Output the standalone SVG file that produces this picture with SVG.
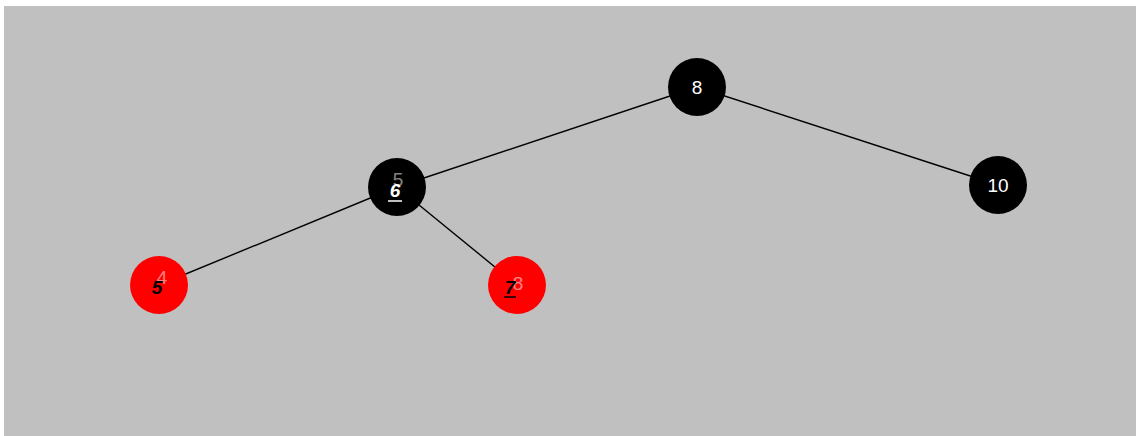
<svg xmlns="http://www.w3.org/2000/svg" width="1140" height="436" viewBox="0 0 1140 436">
<style>
.edge{stroke:#000;stroke-width:1.4;fill:none}
.blk{fill:#000}
.red{fill:#ff0000}
.lbl{font-family:"Liberation Sans",Arial,sans-serif;font-size:19px;text-anchor:middle}
.w{fill:#fff}
.k{fill:#000}
.ghost{opacity:0.5}
</style>
<rect x="0" y="0" width="1140" height="436" fill="#fff"/>
<rect x="4" y="6" width="1132" height="430" fill="#c0c0c0"/>
<g id="connectors">
<line class="edge" x1="697" y1="87" x2="397" y2="187"/>
<line class="edge" x1="697" y1="87" x2="998" y2="185"/>
<line class="edge" x1="397" y1="187" x2="159" y2="285"/>
<line class="edge" x1="397" y1="187" x2="517" y2="285"/>
</g>
<g id="node-8">
<circle class="blk" cx="697" cy="87" r="29"/>
<text class="lbl w" x="697" y="94">8</text>
</g>
<g id="node-10">
<circle class="blk" cx="998" cy="185" r="29"/>
<text class="lbl w" x="998" y="192">10</text>
</g>
<g id="node-6">
<circle class="blk" cx="397" cy="187" r="29"/>
<text class="lbl w ghost" x="398" y="186" font-size="12">5</text>
<text class="lbl w" x="395" y="197" font-style="italic" font-weight="bold">6</text>
<line x1="388" y1="201" x2="402" y2="201" stroke="#fff" stroke-width="1.5"/>
</g>
<g id="node-5">
<circle class="red" cx="159" cy="285" r="29"/>
<text class="lbl w ghost" x="162" y="284" font-size="12">4</text>
<text class="lbl k" x="157" y="294" font-style="italic" font-weight="bold">5</text>
</g>
<g id="node-7">
<circle class="red" cx="517" cy="285" r="29"/>
<text class="lbl w ghost" x="518" y="290" font-size="15">8</text>
<text class="lbl k" x="510" y="294" font-style="italic" font-weight="bold">7</text>
<line x1="504" y1="297" x2="516" y2="297" stroke="#000" stroke-width="1.5"/>
</g>
</svg>
